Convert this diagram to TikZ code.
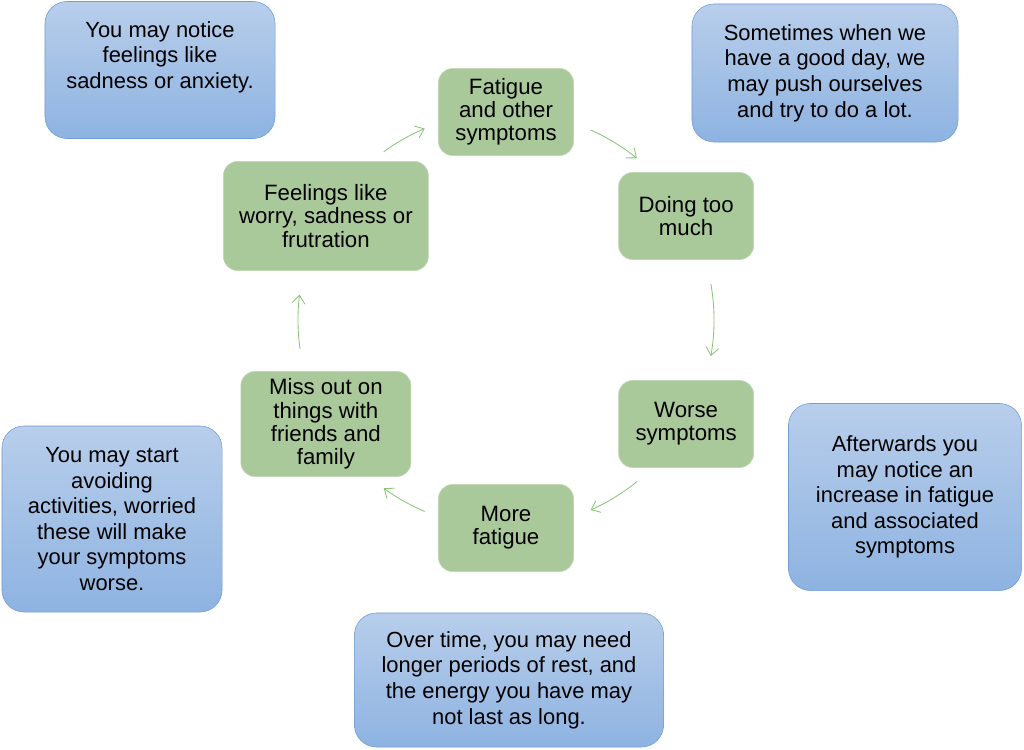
\documentclass[tikz,border=0pt]{standalone}
\usepackage{fontspec}
\setmainfont{Liberation Sans}
\usetikzlibrary{arrows.meta,calc}
\definecolor{cycfill}{RGB}{170,201,155}
\definecolor{cycline}{RGB}{192,216,180}
\definecolor{notetop}{RGB}{184,206,235}
\definecolor{notebot}{RGB}{142,179,225}
\definecolor{noteline}{RGB}{112,157,214}
\definecolor{flowcol}{RGB}{138,196,118}

\begin{document}
\begin{tikzpicture}[x=0.025cm,y=0.025cm,
  cycbox/.style={draw=cycline,fill=cycfill,rounded corners=0.35cm,align=center,inner sep=0pt,
    minimum width=3.375cm,minimum height=2.175cm,font=\fontsize{15.8}{16.5}\selectfont},
  notebox/.style={draw=noteline,top color=notetop,bottom color=notebot,rounded corners=0.55cm,
    align=center,inner sep=0pt,font=\fontsize{15.6}{18.2}\selectfont},
  notetext/.style={align=center,inner sep=0pt,font=\fontsize{15.6}{18.2}\selectfont},
  flow/.style={draw=flowcol,line width=0.6pt,-{Straight Barb[length=2mm,width=3.2mm]}}]
\useasboundingbox (0,0) rectangle (1024,-749);
\coordinate (ring) at (506,-320);

\node[cycbox] (fatigue) at ($(ring)+(90:208)$) {Fatigue\\and other\\symptoms};
\node[cycbox] (toomuch) at ($(ring)+(30:208)$) {Doing too\\much};
\node[cycbox] (worse) at ($(ring)+(-30:208)$) {Worse\\symptoms};
\node[cycbox] (morefat) at ($(ring)+(-90:208)$) {More\\fatigue};
\node[cycbox,minimum width=4.25cm,minimum height=2.625cm] (missout) at ($(ring)+(-150:208)$)
  {Miss out on\\things with\\friends and\\family};
\node[cycbox,minimum width=5.125cm,minimum height=2.725cm] (feelings) at ($(ring)+(150:208)$)
  {Feelings like\\worry, sadness or\\frutration};

\foreach \mid/\half in {119.5/6.5,58.5/7.5,0/10,-58.5/7.5,-119.5/6.5,180.5/7.5}
  \draw[flow] ($(ring)+(\mid+\half:208)$) arc[start angle=\mid+\half,end angle=\mid-\half,radius=208];

\node[notebox,minimum width=5.75cm,minimum height=3.425cm] (noticebox) at (160,-70) {};
\node[notetext] (notice) at (160,-57) {You may notice\\feelings like\\sadness or anxiety.};
\node[notebox,minimum width=6.65cm,minimum height=3.45cm] (goodday) at (825,-73)
  {Sometimes when we\\have a good day, we\\may push ourselves\\and try to do a lot.};
\node[notebox,minimum width=5.825cm,minimum height=4.675cm] (afterwards) at (905,-497)
  {Afterwards you\\may notice an\\increase in fatigue\\and associated\\symptoms};
\node[notebox,minimum width=5.5cm,minimum height=4.65cm] (avoiding) at (112,-519)
  {You may start\\avoiding\\activities, worried\\these will make\\your symptoms\\worse.};
\node[notebox,minimum width=7.725cm,minimum height=3.35cm] (overtime) at (509,-680)
  {Over time, you may need\\longer periods of rest, and\\the energy you have may\\not last as long.};
\end{tikzpicture}
\end{document}
